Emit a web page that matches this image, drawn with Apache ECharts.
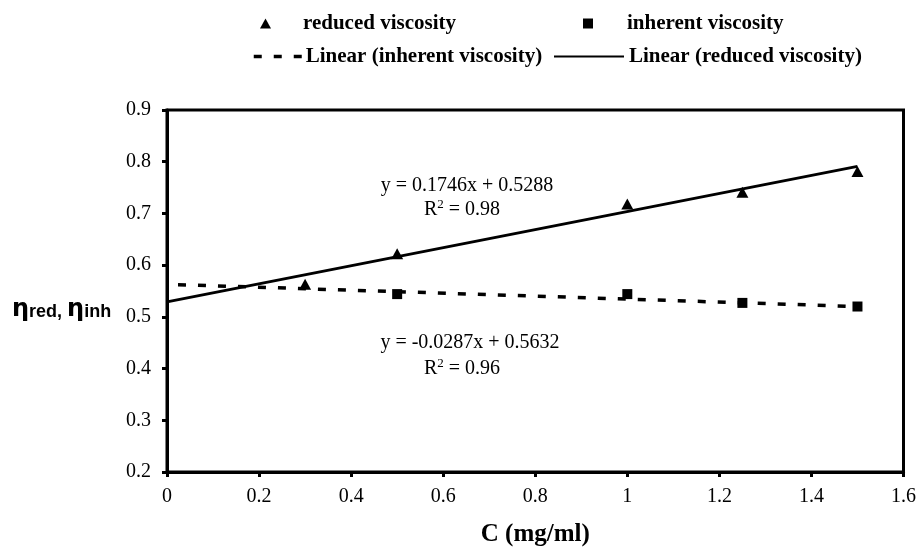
<!DOCTYPE html>
<html><head><meta charset="utf-8">
<script src="https://cdn.jsdelivr.net/npm/echarts@6/dist/echarts.min.js"></script>
<style>html,body{margin:0;padding:0;background:#fff}#c{width:919px;height:552px}</style>
</head><body><div id="c"></div>
<script>
const concentration = [0.3, 0.5, 1, 1.25, 1.5];
const reducedViscosity = [0.563, 0.622, 0.718, 0.741, 0.781];
const inherentConc = [0.5, 1, 1.25, 1.5];
const inherentViscosity = [0.544, 0.544, 0.527, 0.520];
const reducedTrendX = [0, 1.5];
const reducedTrendY = [0.529, 0.791];
const inherentTrendX = [0, 1.5];
const inherentTrendY = [0.563, 0.520];
const xTicks = [0, 0.2, 0.4, 0.6, 0.8, 1, 1.2, 1.4, 1.6];
const yTicks = [0.2, 0.3, 0.4, 0.5, 0.6, 0.7, 0.8, 0.9];

const zip = (a, b) => a.map((v, i) => [v, b[i]]);
const serif = '"Liberation Serif", "Times New Roman", serif';
const legendText = {fontFamily: serif, fontWeight: 'bold', fontSize: 21, color: '#000'};

const chart = echarts.init(document.getElementById('c'));
chart.setOption({
  animation: false,
  backgroundColor: '#fff',
  grid: {left: 167, right: 15, top: 110, bottom: 72, show: true, borderColor: '#000', borderWidth: 3},
  legend: [
    {data: ['reduced viscosity'], top: 8, left: 255, itemWidth: 11, itemHeight: 10,
     textStyle: Object.assign({padding: [0, 0, 0, 27]}, legendText)},
    {data: ['inherent viscosity'], top: 8, left: 578, itemWidth: 10, itemHeight: 10,
     textStyle: Object.assign({padding: [0, 0, 0, 29]}, legendText)},
    {data: ['Linear (inherent viscosity)'], top: 41, left: 247, itemWidth: 48, itemHeight: 12,
     itemStyle: {opacity: 0}, lineStyle: {color: '#000', width: 3.5, type: [8, 12], dashOffset: 0},
     textStyle: Object.assign({padding: [0, 0, 0, -1]}, legendText)},
    {data: ['Linear (reduced viscosity)'], top: 41, left: 548, itemWidth: 70, itemHeight: 12,
     itemStyle: {opacity: 0}, textStyle: Object.assign({padding: [0, 0, 0, 0]}, legendText)}
  ],
  xAxis: {
    type: 'value', min: 0, max: 1.6, interval: 0.2,
    name: 'C (mg/ml)', nameLocation: 'middle', nameGap: 50,
    nameTextStyle: {fontFamily: serif, fontWeight: 'bold', fontSize: 25, color: '#000'},
    axisLine: {lineStyle: {color: '#000', width: 3}},
    axisTick: {lineStyle: {color: '#000', width: 3}, length: 5},
    axisLabel: {fontFamily: serif, fontSize: 20, color: '#000', margin: 15,
      formatter: v => xTicks.includes(+v.toFixed(1)) ? String(+v.toFixed(1)) : ''},
    splitLine: {show: false}
  },
  yAxis: {
    type: 'value', min: 0.2, max: 0.9, interval: 0.1,
    axisLine: {show: true, lineStyle: {color: '#000', width: 3}},
    axisTick: {show: true, lineStyle: {color: '#000', width: 3}, length: 5},
    axisLabel: {fontFamily: serif, fontSize: 20, color: '#000', margin: 16,
      formatter: v => yTicks.includes(+v.toFixed(1)) ? (+v).toFixed(1) : ''},
    splitLine: {show: false}
  },
  series: [
    {name: 'reduced viscosity', type: 'scatter', symbol: 'triangle', symbolSize: [12, 11],
     itemStyle: {color: '#000', opacity: 1}, data: zip(concentration, reducedViscosity), z: 5},
    {name: 'inherent viscosity', type: 'scatter', symbol: 'rect', symbolSize: 10,
     itemStyle: {color: '#000', opacity: 1}, data: zip(inherentConc, inherentViscosity), z: 5},
    {name: 'Linear (inherent viscosity)', type: 'line', symbol: 'none',
     lineStyle: {color: '#000', width: 3.5, type: [8, 12], dashOffset: 9}, itemStyle: {color: '#000'},
     data: zip(inherentTrendX, inherentTrendY)},
    {name: 'Linear (reduced viscosity)', type: 'line', symbol: 'none',
     lineStyle: {color: '#000', width: 3}, itemStyle: {color: '#000'},
     data: zip(reducedTrendX, reducedTrendY)}
  ],
  graphic: [
    {type: 'text', x: 467, y: 186, style: {text: 'y = 0.1746x + 0.5288', font: '20px ' + serif, fill: '#000', align: 'center', verticalAlign: 'middle'}},
    {type: 'text', x: 462, y: 210, style: {text: '{n|R}{s|2}{n| = 0.98}', fill: '#000', align: 'center', verticalAlign: 'middle',
      rich: {n: {fontFamily: serif, fontSize: 20}, s: {fontFamily: serif, fontSize: 13, padding: [0, 0, 10, 0]}}}},
    {type: 'text', x: 470, y: 343, style: {text: 'y = -0.0287x + 0.5632', font: '20px ' + serif, fill: '#000', align: 'center', verticalAlign: 'middle'}},
    {type: 'text', x: 462, y: 369, style: {text: '{n|R}{s|2}{n| = 0.96}', fill: '#000', align: 'center', verticalAlign: 'middle',
      rich: {n: {fontFamily: serif, fontSize: 20}, s: {fontFamily: serif, fontSize: 13, padding: [0, 0, 10, 0]}}}},
    {type: 'text', x: 12, y: 310, style: {text: '{e|η}{t|red, }{e|η}{t|inh}', fill: '#000', verticalAlign: 'middle',
      rich: {e: {fontFamily: '"DejaVu Sans", sans-serif', fontSize: 24, fontWeight: 'bold'}, t: {fontFamily: '"Liberation Sans", Arial, sans-serif', fontSize: 18, fontWeight: 'bold', padding: [5, 0, 0, 0]}}}}
  ]
});
</script></body></html>
